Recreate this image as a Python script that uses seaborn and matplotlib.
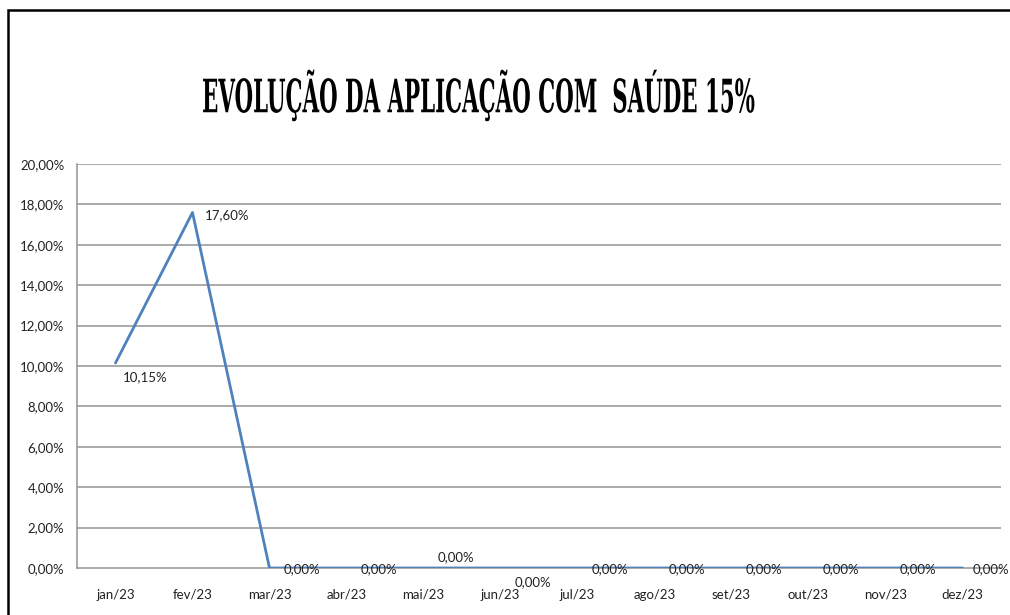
import matplotlib
matplotlib.use("Agg")
import matplotlib.pyplot as plt
import seaborn as sns
import pandas as pd
from matplotlib.patches import Rectangle
from matplotlib.patheffects import AbstractPathEffect
from matplotlib.transforms import Affine2D

months = ["jan/23", "fev/23", "mar/23", "abr/23", "mai/23", "jun/23",
          "jul/23", "ago/23", "set/23", "out/23", "nov/23", "dez/23"]
values = [10.15, 17.60, 0.0, 0.0, 0.0, 0.0, 0.0, 0.0, 0.0, 0.0, 0.0, 0.0]
# data label offsets (points)
label_dx = [5, 9, 10, 10, 10, 10, 10, 10, 10, 10, 10, 7]
label_dy = [-10, -2, -1, -1, 8, -10, -1, -1, -1, -1, -1, -1]
yticks = [0, 2, 4, 6, 8, 10, 12, 14, 16, 18, 20]
title = "EVOLUÇÃO DA APLICAÇÃO COM  SAÚDE 15%"

sns.set_style("white")
plt.rcParams['font.family'] = ['Lato', 'DejaVu Sans']


class Stretch(AbstractPathEffect):
    """Scale text glyphs around a given display point (condensed look)."""
    def __init__(self, sx, sy, cx, cy):
        super().__init__()
        self.sx, self.sy, self.cx, self.cy = sx, sy, cx, cy

    def draw_path(self, renderer, gc, tpath, affine, rgbFace=None):
        aff = affine + (Affine2D().translate(-self.cx, -self.cy)
                        .scale(self.sx, self.sy)
                        .translate(self.cx, self.cy))
        renderer.draw_path(gc, tpath, aff, rgbFace)


df = pd.DataFrame({"mes": range(len(months)), "valor": values})

fig = plt.figure(figsize=(10.10, 6.15), dpi=100)
fig.patch.set_facecolor("white")
ax = fig.add_axes([77/1010, 1-568/615, (1001-77)/1010, (568-164)/615])

grid_c = "#939393"
for yv in yticks[1:]:
    ax.axhline(yv, color=grid_c, lw=1.1, zorder=0)

sns.lineplot(data=df, x="mes", y="valor", ax=ax, color="#4F81BD", lw=2.0,
             zorder=3)

ax.set_xlim(-0.5, len(months) - 0.5)
ax.set_ylim(0, 20)
ax.set_yticks(yticks)
ax.set_yticklabels([f"{v:.2f}".replace(".", ",") + "%" for v in yticks],
                   fontsize=9.5, color="#222222")
ax.set_xticks(range(len(months)))
ax.set_xticklabels(months, fontsize=9.5, color="#222222")
ax.tick_params(axis="x", length=0, pad=15)
ax.set_xticks([i - 0.5 for i in range(len(months) + 1)], minor=True)
ax.tick_params(axis="x", which="minor", length=4, color=grid_c, direction="out")
ax.tick_params(axis="y", length=4, color=grid_c, direction="out", pad=5)
ax.set_xlabel("")
ax.set_ylabel("")
for s in ["top", "right"]:
    ax.spines[s].set_visible(False)
ax.spines["left"].set_color(grid_c)
ax.spines["bottom"].set_color(grid_c)
ax.spines["left"].set_linewidth(1.1)
ax.spines["bottom"].set_linewidth(1.1)

for i, v in enumerate(values):
    ax.annotate(f"{v:.2f}".replace(".", ",") + "%", (i, v),
                xytext=(label_dx[i], label_dy[i]), textcoords="offset points",
                fontsize=9.5, color="#222222", va="center", ha="left",
                annotation_clip=False, zorder=4)

# title: condensed heavy look via glyph scaling about its centre
title_cx, title_cy = 479, 615 - 95
fig.text(title_cx/1010, title_cy/615, title, ha="center", va="center",
         fontsize=24, fontweight="bold", family=["DejaVu Serif"],
         color="black",
         path_effects=[Stretch(0.64, 1.38, title_cx, title_cy)])

fig.patches.append(Rectangle((8/1010, -0.2), 1.2, 1.2 - 10/615,
                             transform=fig.transFigure, fill=False,
                             edgecolor="black", lw=1.8, clip_on=False))

fig.savefig("out.png", dpi=100)
